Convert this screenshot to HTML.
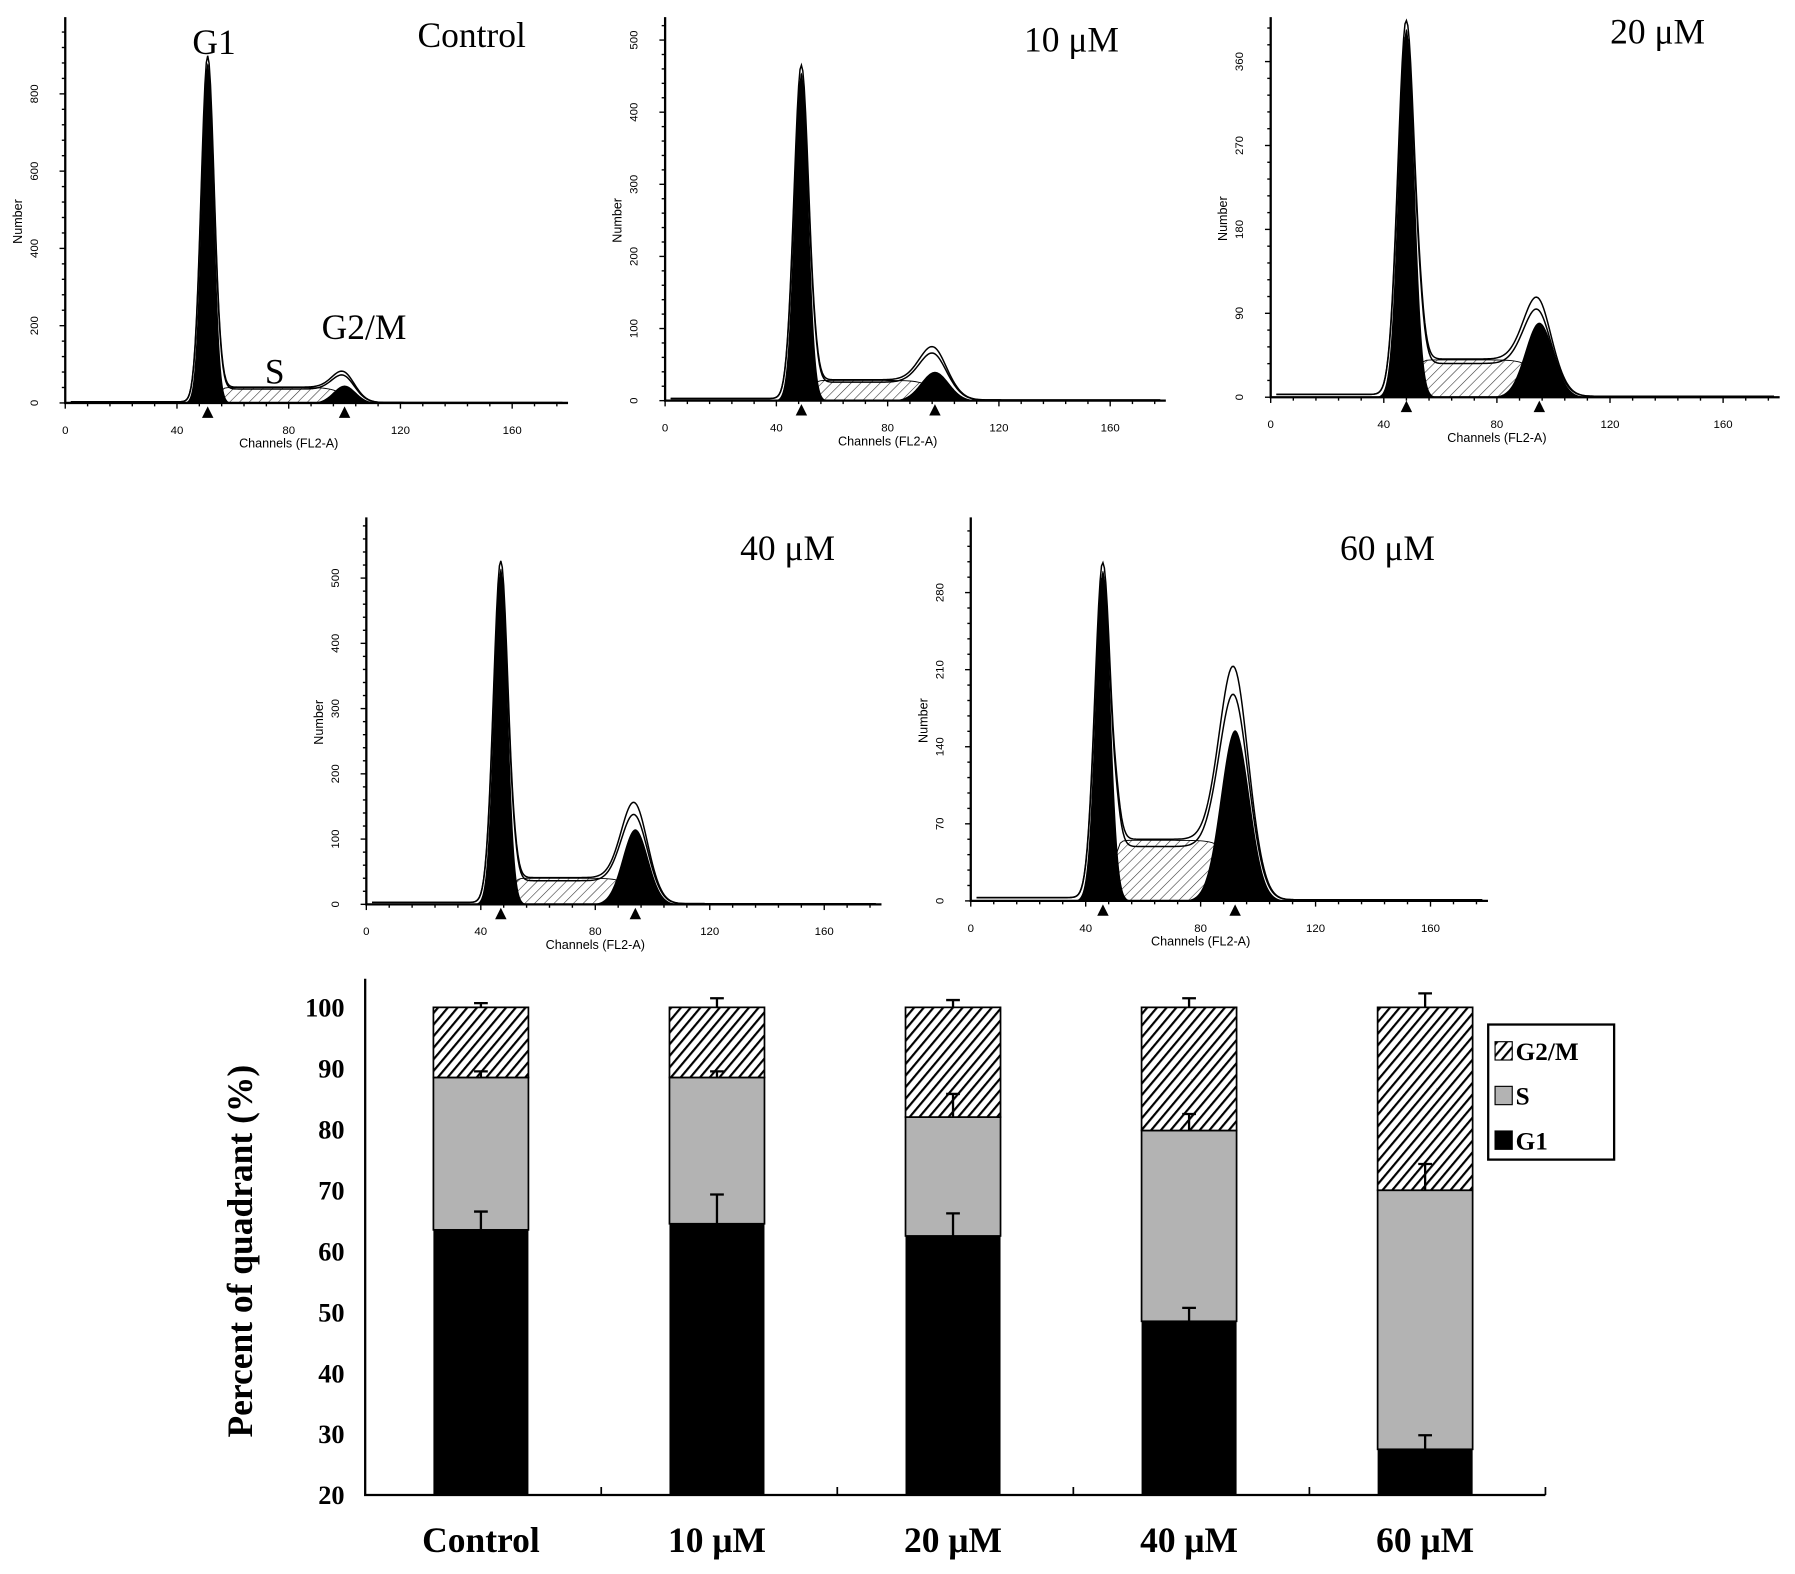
<!DOCTYPE html>
<html><head><meta charset="utf-8"><style>html,body{margin:0;padding:0;background:#fff}svg{display:block}</style></head>
<body>
<svg id="fig" xmlns="http://www.w3.org/2000/svg" width="1795" height="1574" viewBox="0 0 1568 1375" preserveAspectRatio="none">
<defs>
<pattern id="hatchS" patternUnits="userSpaceOnUse" width="6" height="6" patternTransform="rotate(45)"><rect width="6" height="6" fill="#fff"/><line x1="0" y1="0" x2="0" y2="6" stroke="#333" stroke-width="1"/></pattern>
<pattern id="hatchBar" patternUnits="userSpaceOnUse" width="6.5" height="6.5" patternTransform="rotate(40)"><rect width="6.5" height="6.5" fill="#fff"/><line x1="0" y1="0" x2="0" y2="6.5" stroke="#000" stroke-width="3.8"/></pattern>
</defs>
<g id="hists"></g>
<g id="bars"></g>
</svg>
<script>
// ---------- Bar chart data ----------
const categories = ["Control","10 μM","20 μM","40 μM","60 μM"];
const g1Values = [63.5, 64.5, 62.5, 48.5, 27.5];
const sTopValues = [88.5, 88.5, 82, 79.8, 70];
const g2TopValues = [100, 100, 100, 100, 100];
const g1ErrTop = [66.5, 69.3, 66.2, 50.7, 29.8];
const sErrTop = [89.5, 89.5, 85.8, 82.5, 74.3];
const g2ErrTop = [100.7, 101.5, 101.2, 101.5, 102.3];
const yTicks = [20,30,40,50,60,70,80,90,100];

// ---------- Histogram data (model parameters) ----------
const panelTitles = ["Control","10 μM","20 μM","40 μM","60 μM"];
const g1Center = [51, 49, 48, 47, 46];
const g1Height = [880, 455, 395, 515, 300];
const g1Sigma = [2.2, 2.5, 2.8, 2.4, 2.6];
const g2Center = [100, 97, 95, 94, 92];
const g2Height = [45, 40, 80, 115, 155];
const g2Sigma = [4, 5, 5, 4.5, 5];
const sLevel = [40, 28, 40, 40, 55];
const envPeak = [90, 80, 115, 165, 225];
const histYTicks = [[0,200,400,600,800],[0,100,200,300,400,500],[0,90,180,270,360],[0,100,200,300,400,500],[0,70,140,210,280]];
const histXTicks = [0,40,80,120,160];

const NS="http://www.w3.org/2000/svg";
function mk(parent, tag, attrs, text){const e=document.createElementNS(NS,tag);for(const k in attrs)e.setAttribute(k,attrs[k]);if(text!==undefined)e.textContent=text;parent.appendChild(e);return e;}

const layout=[
 {x0:57,kx:2.44,y0:352,ky:67.5/200,top:15,tx:412,ty:41},
 {x0:581,kx:2.43,y0:350,ky:63/100,top:15,tx:936,ty:45},
 {x0:1110,kx:2.47,y0:347,ky:73.3/90,top:15,tx:1448,ty:38},
 {x0:320,kx:2.5,y0:790,ky:57/100,top:452,tx:688,ty:489},
 {x0:848,kx:2.51,y0:787,ky:202/210,top:452,tx:1212,ty:489}
];
const hg=document.getElementById('hists');
function gauss(c,h,s,x){return h*Math.exp(-0.5*((x-c)/s)**2);}
function sig(x){return 1/(1+Math.exp(-x));}
layout.forEach((L,i)=>{
  const g=mk(hg,'g',{});
  
  
  const X=ch=>L.x0+ch*L.kx, Y=v=>L.y0-v*L.ky;
  let d='M'+X(g1Center[i]+2)+','+Y(0);
  for(let c=g1Center[i]+2;c<=g2Center[i]+3;c+=1){d+=' L'+X(c)+','+Y(sLevel[i]*sig((c-g1Center[i]-4)*1.5)*sig((g2Center[i]-c)*0.4));}
  d+=' L'+X(g2Center[i]+3)+','+Y(0)+'Z';
  const sp=mk(g,'path',{d:d,fill:'url(#hatchS)',stroke:'#000','stroke-width':0.8});
  
  
  [[g1Center,g1Height,g1Sigma,'g1-peak'],[g2Center,g2Height,g2Sigma,'g2m-peak']].forEach(([C,H,S,nm])=>{
    let p='M'+X(C[i]-4*S[i])+','+Y(0);
    for(let c=C[i]-4*S[i];c<=C[i]+4*S[i];c+=0.25)p+=' L'+X(c)+','+Y(gauss(C[i],H[i],S[i],c));
    p+=' L'+X(C[i]+4*S[i])+','+Y(0)+'Z';
    const pk=mk(g,'path',{d:p,fill:'#000'});
    
    
  });
  [1,0.88].forEach((f,j)=>{
    let p='';
    for(let c=2;c<=178;c+=0.5){
      const v=gauss(g1Center[i],g1Height[i]*(j?0.98:1.02),g1Sigma[i]*1.08,c)+ (sLevel[i]*f)*sig((c-g1Center[i]-4)*1.5)*sig((g2Center[i]+2-c)*0.5)+gauss(g2Center[i],(envPeak[i]-sLevel[i])*f,g2Sigma[i]*1.05,c)+ (c<g1Center[i]?3:1);
      p+=(p?' L':'M')+X(c)+','+Y(v);
    }
    const ev=mk(g,'path',{d:p,fill:'none',stroke:'#000','stroke-width':1.3});
    
    
  });
  const ax=mk(g,'path',{d:'M'+L.x0+','+L.top+' L'+L.x0+','+L.y0+' L'+X(180)+','+L.y0,fill:'none',stroke:'#000','stroke-width':2});
  
  
  for(let c=0;c<=180;c+=8){const tk=mk(g,'line',{x1:X(c),x2:X(c),y1:L.y0,y2:L.y0+(c%40?3:5),stroke:'#000','stroke-width':1.2});}
  histXTicks.forEach(t=>{const tl=mk(g,'text',{x:X(t),y:L.y0+27,'font-size':10,'text-anchor':'middle','font-family':'Liberation Sans, sans-serif'},String(t));});
  const yt=histYTicks[i], step=(yt[1]-yt[0])/5;
  for(let v=0;Y(v)>=L.top;v+=step){const tk=mk(g,'line',{x1:L.x0,x2:L.x0-((Math.round(v/step))%5?3:5),y1:Y(v),y2:Y(v),stroke:'#000','stroke-width':1.2});}
  yt.forEach(t=>{const tl=mk(g,'text',{x:0,y:0,'font-size':10,'text-anchor':'middle','font-family':'Liberation Sans, sans-serif',transform:'translate('+(L.x0-24)+','+Y(t)+') rotate(-90)'},String(t));});
  const yl=mk(g,'text',{x:0,y:0,'font-size':11,'text-anchor':'middle','font-family':'Liberation Sans, sans-serif',transform:'translate('+(L.x0-38)+','+((L.y0+L.top)/2+10)+') rotate(-90)'},'Number');
  
  
  const xl=mk(g,'text',{x:X(80),y:L.y0+39,'font-size':11,'text-anchor':'middle','font-family':'Liberation Sans, sans-serif'},'Channels (FL2-A)');
  
  
  [g1Center[i],g2Center[i]].forEach(c=>{const tr=mk(g,'path',{d:'M'+(X(c)-5)+','+(L.y0+13)+' L'+(X(c)+5)+','+(L.y0+13)+' L'+X(c)+','+(L.y0+3)+'Z',fill:'#000'});});
  const tt=mk(g,'text',{x:L.tx,y:L.ty,'font-size':31,'text-anchor':'middle','font-family':'Liberation Serif, serif'},panelTitles[i]);
  
  
});
[['G1',187,47],['S',240,335],['G2/M',318,296]].forEach(([t,x,y])=>{const a=mk(hg,'text',{x:x,y:y,'font-size':31,'text-anchor':'middle','font-family':'Liberation Serif, serif'},t);});

const bg=document.getElementById('bars');
const AX={x0:319,x1:1350,yb:1306};
const yS=v=>AX.yb-(v-20)*(1306-880)/80;
const slotW=(AX.x1-AX.x0)/5, barW=83;
const bx=i=>AX.x0+slotW*(i+0.5)-barW/2+(-2);
yTicks.forEach(t=>{
  const tl=mk(bg,'text',{x:301,y:yS(t)+8,'font-size':23,'font-weight':'bold','text-anchor':'end','font-family':'Liberation Serif, serif'},String(t));
  
  
});
categories.forEach((c,i)=>{
  const x=bx(i);
  const r1=mk(bg,'rect',{x:x,y:yS(g1Values[i]),width:barW,height:yS(20)-yS(g1Values[i]),fill:'#000'});
  
  
  const r2=mk(bg,'rect',{x:x,y:yS(sTopValues[i]),width:barW,height:yS(g1Values[i])-yS(sTopValues[i]),fill:'#b3b3b3',stroke:'#000','stroke-width':1.5});
  
  
  const r3=mk(bg,'rect',{x:x,y:yS(g2TopValues[i]),width:barW,height:yS(sTopValues[i])-yS(g2TopValues[i]),fill:'url(#hatchBar)',stroke:'#000','stroke-width':1.5});
  
  
  [[g1Values,g1ErrTop],[sTopValues,sErrTop],[g2TopValues,g2ErrTop]].forEach(([b,e])=>{
    const cx=x+barW/2;
    const el=mk(bg,'path',{d:'M'+cx+','+yS(b[i])+' L'+cx+','+yS(e[i])+' M'+(cx-6)+','+yS(e[i])+' L'+(cx+6)+','+yS(e[i]),stroke:'#000','stroke-width':2,fill:'none'});
    
    
  });
  const cl=mk(bg,'text',{x:x+barW/2,y:1356,'font-size':31,'font-weight':'bold','text-anchor':'middle','font-family':'Liberation Serif, serif'},c);
  
  
});
const axp=mk(bg,'path',{d:'M'+AX.x0+',855 L'+AX.x0+','+AX.yb+' L'+AX.x1+','+AX.yb,fill:'none',stroke:'#000','stroke-width':2});


for(let i=1;i<=5;i++){const tk=mk(bg,'line',{x1:AX.x0+slotW*i,x2:AX.x0+slotW*i,y1:AX.yb,y2:AX.yb-7,stroke:'#000','stroke-width':1.5});}
const yt2=mk(bg,'text',{x:0,y:0,'font-size':31,'font-weight':'bold','text-anchor':'middle','font-family':'Liberation Serif, serif',transform:'translate(220,1093) rotate(-90)'},'Percent of quadrant (%)');


const lg=mk(bg,'rect',{x:1300,y:895,width:110,height:118,fill:'#fff',stroke:'#000','stroke-width':2});


[['G2/M','url(#hatchBar)',918],['S','#b3b3b3',957],['G1','#000',996]].forEach(([t,f,y])=>{
  const sw=mk(bg,'rect',{x:1306,y:y-8,width:15,height:16,fill:f,stroke:'#000','stroke-width':1});
  
  
  const lt=mk(bg,'text',{x:1324,y:y+8,'font-size':22,'font-weight':'bold','font-family':'Liberation Serif, serif'},t);
  
  
});
</script>
</body></html>
